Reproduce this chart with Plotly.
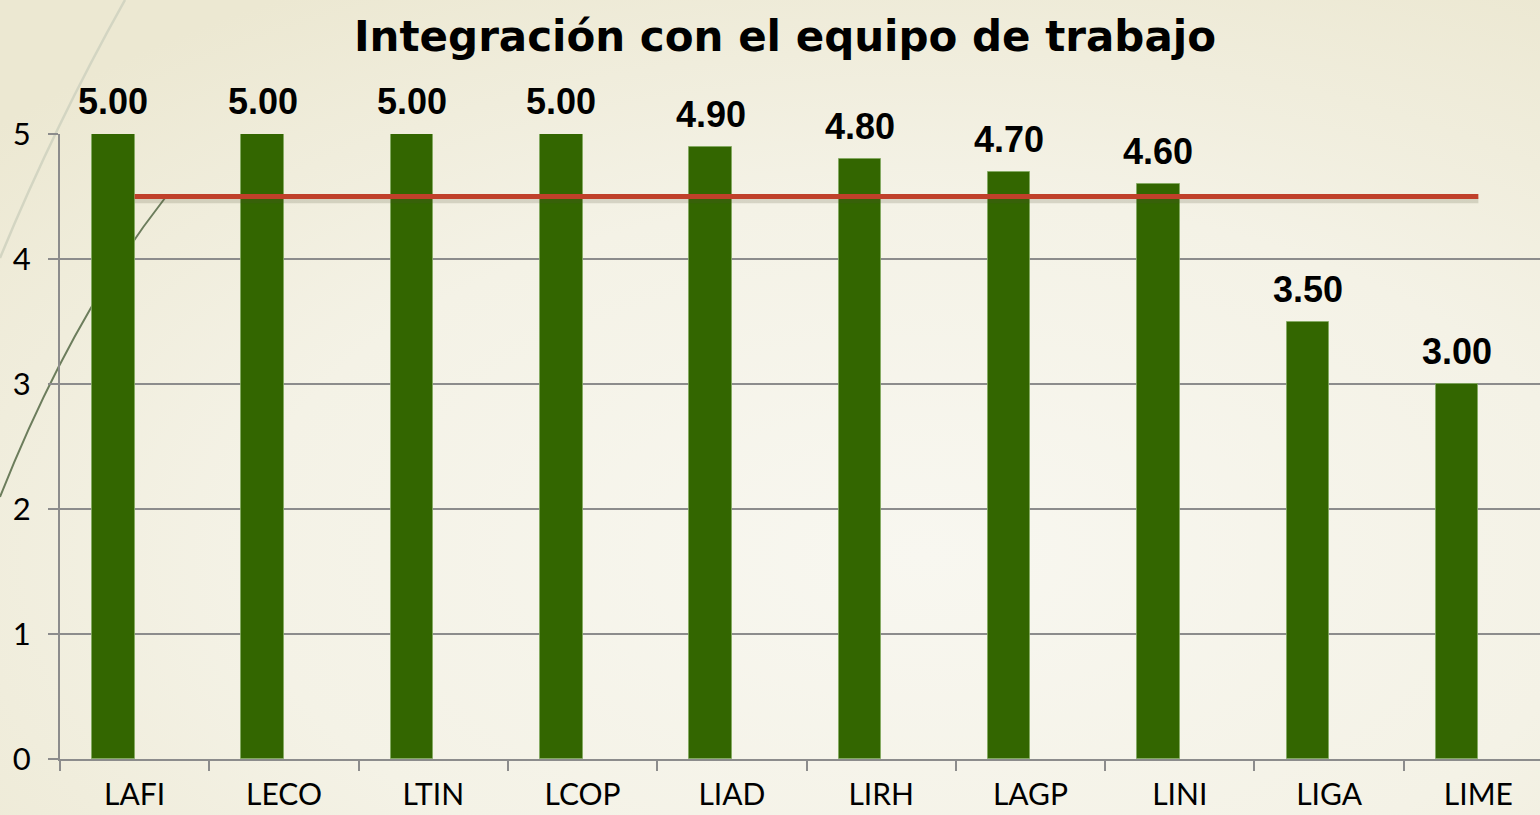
import base64
import plotly.graph_objects as go

categories = ["LAFI", "LECO", "LTIN", "LCOP", "LIAD", "LIRH", "LAGP", "LINI", "LIGA", "LIME"]
scores = [5.00, 5.00, 5.00, 5.00, 4.90, 4.80, 4.70, 4.60, 3.50, 3.00]
threshold = 4.5
y_ticks = [0, 1, 2, 3, 4, 5]
title_text = "Integración con el equipo de trabajo"

W, H = 1540, 815
L, R, T, B = 60, 0, 134, 56
PW, PH = W - L - R, H - T - B
CAT_PX = 149.3
BAR_W = 0.285


def px(x):
    return (x - L) / PW


def py(y):
    return (H - B - y) / PH


svg = (
    "<svg xmlns='http://www.w3.org/2000/svg' width='1540' height='815'>"
    "<defs><radialGradient id='g' cx='0.6' cy='0.68' r='0.8'>"
    "<stop offset='0' stop-color='#F8F7F0'/>"
    "<stop offset='0.55' stop-color='#F4F2E6'/>"
    "<stop offset='1' stop-color='#ECE8D2'/>"
    "</radialGradient></defs>"
    "<rect width='1540' height='815' fill='url(#g)'/></svg>"
)
bg_uri = "data:image/svg+xml;base64," + base64.b64encode(svg.encode()).decode()

fig = go.Figure()

fig.add_trace(go.Bar(
    x=categories, y=scores,
    width=BAR_W, offset=-BAR_W,
    marker=dict(color="#336600", line=dict(color="rgba(130,170,95,0.8)", width=1)),
    showlegend=False,
))

# shadow of the threshold line
fig.add_trace(go.Scatter(
    x=[categories[0], categories[-1]], y=[threshold - 0.03, threshold - 0.03],
    mode="lines", line=dict(color="rgba(80,80,50,0.18)", width=6),
    showlegend=False, hoverinfo="skip",
))
fig.add_trace(go.Scatter(
    x=[categories[0], categories[-1]], y=[threshold, threshold],
    mode="lines", line=dict(color="#C0402A", width=5),
    showlegend=False,
))

annotations = [
    dict(x=c, y=v, xref="x", yref="y", text=f"<b>{v:.2f}</b>", showarrow=False,
         xanchor="center", yanchor="bottom", xshift=-BAR_W / 2 * CAT_PX, yshift=10,
         font=dict(family="Liberation Sans", size=36, color="black"))
    for c, v in zip(categories, scores)
]


def pt(x, y):
    return f"{px(x):.5f},{py(y):.5f}"


# decorative background curves (in paper coordinates)
shapes = [
    dict(type="path", xref="paper", yref="paper", layer="below",
         path=f"M {pt(125, 0)} Q {pt(55, 125)} {pt(0, 258)}",
         line=dict(color="#D3D5C2", width=2.5)),
    dict(type="path", xref="paper", yref="paper", layer="below",
         path=f"M {pt(165, 198)} Q {pt(70, 320)} {pt(0, 497)}",
         line=dict(color="#6C7D5C", width=2)),
]

fig.update_layout(
    width=W, height=H,
    margin=dict(l=L, r=R, t=T, b=B, pad=0, autoexpand=False),
    paper_bgcolor="#F2F0E2",
    plot_bgcolor="rgba(0,0,0,0)",
    images=[dict(source=bg_uri, xref="paper", yref="paper",
                 x=px(0), y=py(0), sizex=W / PW, sizey=H / PH,
                 xanchor="left", yanchor="top", sizing="stretch", layer="below")],
    shapes=shapes,
    annotations=annotations,
    title=dict(text=f"<b>{title_text}</b>", x=785 / W, xanchor="center",
               y=1 - 36 / H, yanchor="middle", yref="container",
               font=dict(family="DejaVu Sans", size=42, color="black")),
    bargap=0,
    xaxis=dict(
        type="category", range=[-0.5, -0.5 + PW / CAT_PX], automargin=False,
        tickson="boundaries", ticks="outside", ticklen=10, tickwidth=2, tickcolor="#8C8C8C",
        showline=True, linecolor="#8C8C8C", linewidth=2,
        showgrid=False, ticklabelstandoff=8,
        tickfont=dict(family="Lato", size=30, color="black"),
    ),
    yaxis=dict(
        range=[0, 5], tickvals=y_ticks, ticks="outside", ticklen=10, tickwidth=2,
        automargin=False,
        tickcolor="#8C8C8C", showline=True, linecolor="#8C8C8C", linewidth=2,
        showgrid=True, gridcolor="#8C8C8C", gridwidth=2, zeroline=False,
        ticklabelstandoff=11,
        tickfont=dict(family="Lato", size=31, color="black"),
    ),
)

fig.write_html("out.html", config={"displayModeBar": False},
               post_script="document.body.style.margin='0';")
